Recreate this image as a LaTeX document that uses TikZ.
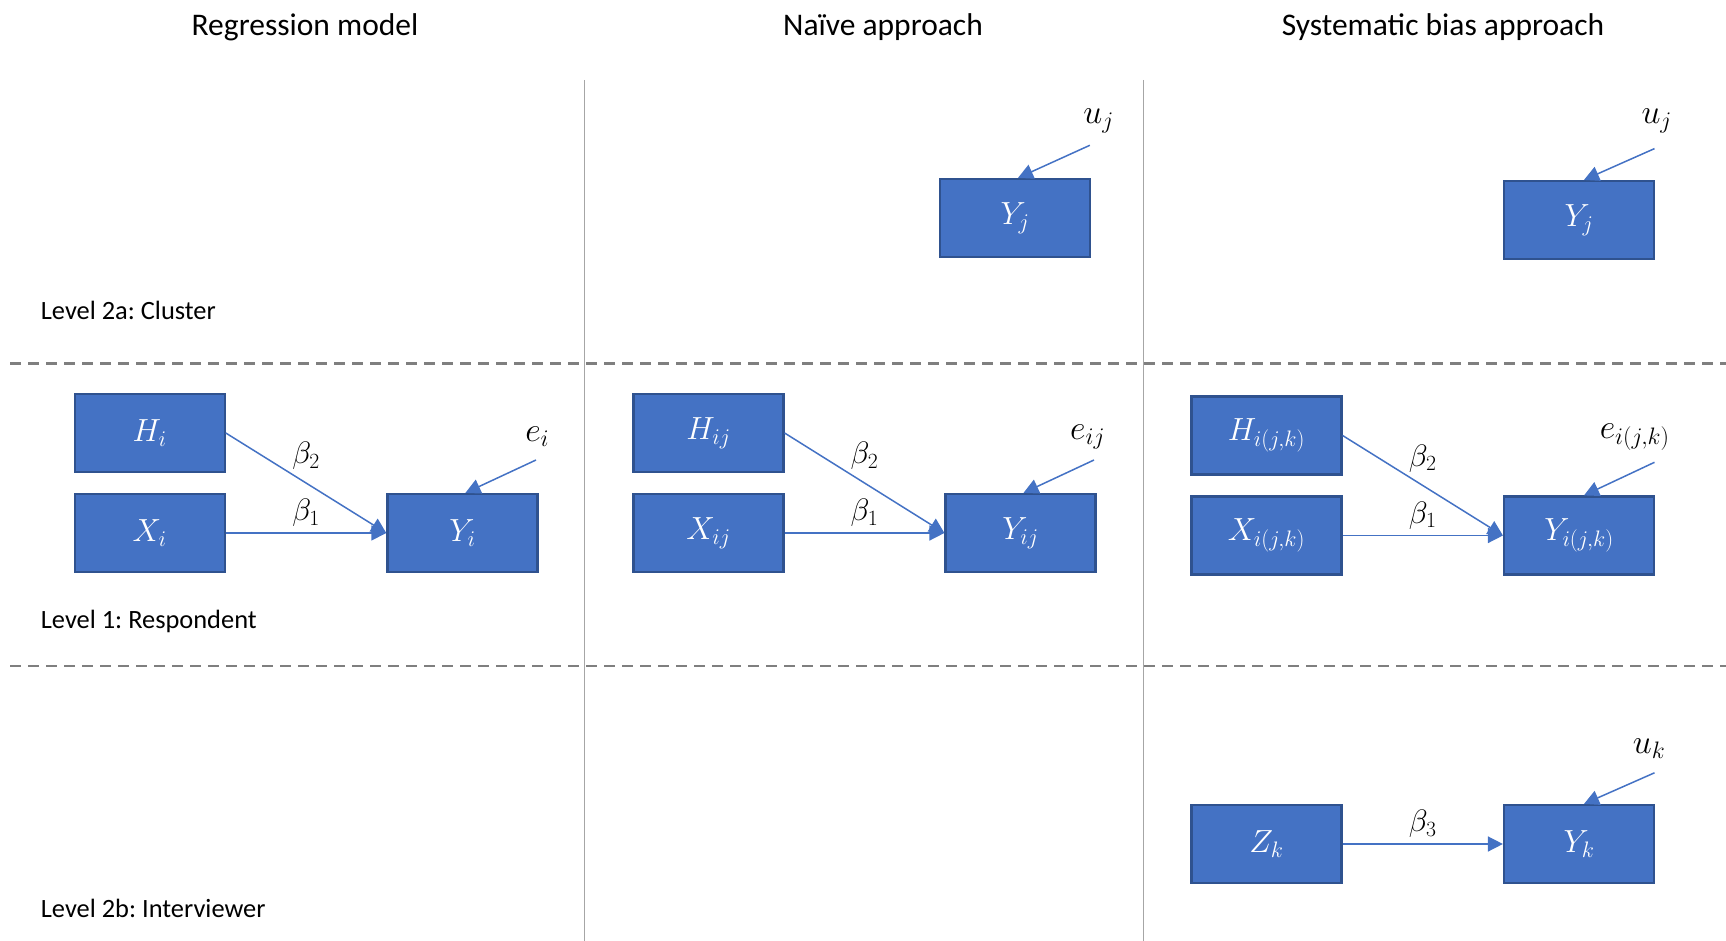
\documentclass[tikz,border=0pt]{standalone}
\usepackage{fix-cm}
\usepackage{fontspec}
\setmainfont{Carlito}
\usetikzlibrary{arrows.meta,calc}
\definecolor{boxfill}{HTML}{4472C4}
\definecolor{boxedge}{HTML}{2F528F}
\definecolor{arrowc}{HTML}{4472C4}
\definecolor{vlinec}{HTML}{A6A6A6}
\definecolor{dlinec}{HTML}{7F7F7F}
\frenchspacing
\begin{document}
\begin{tikzpicture}[x=1pt,y=-1pt,
  var/.style={draw=boxedge, line width=2.2pt, fill=boxfill, minimum width=150pt, minimum height=78pt, inner sep=0pt, text=white, font=\fontsize{32}{38}\selectfont},
  lab/.style={inner sep=0pt, font=\fontsize{34}{40}\selectfont},
  coef/.style={inner sep=0pt, font=\fontsize{31}{37}\selectfont},
  ttl/.style={anchor=base, inner sep=0pt, font=\fontsize{31.5}{38}\selectfont},
  lvl/.style={anchor=base west, inner sep=0pt, font=\fontsize{26.4}{32}\selectfont},
  link/.style={draw=arrowc, line width=1.5pt, -{Triangle[length=15pt,width=15pt]}},
  sep/.style={draw=vlinec, line width=1.5pt},
  divider/.style={draw=dlinec, line width=2.4pt, dash pattern=on 11pt off 7pt}
]
\useasboundingbox (0,0) rectangle (1726,941);

% titles
\node[ttl] (t1) at (305,36) {Regression model};
\node[ttl] (t2) at (883,36) {Naïve approach};
\node[ttl] (t3) at (1443,36) {Systematic bias approach};

% grid lines
\coordinate (v1a) at (584.5,80);
\coordinate (v1b) at (584.5,941);
\coordinate (v2a) at (1143.7,80);
\coordinate (v2b) at (1143.7,941);
\draw[sep] (v1a) -- (v1b);
\draw[sep] (v2a) -- (v2b);
\coordinate (d1a) at (10,363.3);
\coordinate (d1b) at (1726,363.3);
\coordinate (d2a) at (10,666);
\coordinate (d2b) at (1726,666);
\draw[divider] (d1a) -- (d1b);
\draw[divider] (d2a) -- (d2b);

% level labels
\node[lvl] (l1) at (40.7,319) {Level 2a: Cluster};
\node[lvl] (l2) at (40.7,628) {Level 1: Respondent};
\node[lvl] (l3) at (40.7,917) {Level 2b: Interviewer};

% column 1
\node[var] (H1) at (149.7,433) {$H_i$};
\node[var] (X1) at (149.7,533) {$X_i$};
\node[var] (Y1) at (462.4,533) {$Y_i$};
\draw[link] (H1.east) -- (Y1.west) node[coef, midway, yshift=27pt] (b21) {$\beta_2$};
\draw[link] (X1.east) -- (Y1.west) node[coef, midway, yshift=20pt] (b11) {$\beta_1$};
\node[lab] (e1) at (537.2,437) {$e_i$};
\coordinate (e1s) at (536,460);
\draw[link] (e1s) -- ([xshift=3pt]Y1.north);

% column 2
\node[var] (YJ2) at (1015,218) {$Y_j$};
\node[lab] (u2) at (1098.6,121) {$u_j$};
\coordinate (u2s) at (1089.8,145.3);
\draw[link] (u2s) -- ([xshift=3pt]YJ2.north);
\node[var] (H2) at (708.5,433) {$H_{ij}$};
\node[var] (X2) at (708.5,533) {$X_{ij}$};
\node[var] (Y2) at (1020.5,533) {$Y_{ij}$};
\draw[link] (H2.east) -- (Y2.west) node[coef, midway, yshift=27pt] (b22) {$\beta_2$};
\draw[link] (X2.east) -- (Y2.west) node[coef, midway, yshift=20pt] (b12) {$\beta_1$};
\node[lab] (e2) at (1087.6,437) {$e_{ij}$};
\coordinate (e2s) at (1094,460);
\draw[link] (e2s) -- ([xshift=3pt]Y2.north);

% column 3
\node[var] (YJ3) at (1579,220) {$Y_j$};
\node[lab] (u3) at (1656.7,121) {$u_j$};
\coordinate (u3s) at (1654.5,148.6);
\draw[link] (u3s) -- ([xshift=5pt]YJ3.north);
\node[var] (H3) at (1266.5,435.5) {$H_{i(j,k)}$};
\node[var] (X3) at (1266.5,535.5) {$X_{i(j,k)}$};
\node[var] (Y3) at (1579,535.5) {$Y_{i(j,k)}$};
\draw[link] (H3.east) -- (Y3.west) node[coef, midway, yshift=27pt] (b23) {$\beta_2$};
\draw[link] (X3.east) -- (Y3.west) node[coef, midway, yshift=20pt] (b13) {$\beta_1$};
\node[lab] (e3) at (1634.7,437) {$e_{i(j,k)}$};
\coordinate (e3s) at (1654.5,462.3);
\draw[link] (e3s) -- ([xshift=5pt]Y3.north);
\node[var] (Z3) at (1266.5,844) {$Z_k$};
\node[var] (YK3) at (1579,844) {$Y_k$};
\draw[link] (Z3.east) -- (YK3.west) node[coef, midway, yshift=20pt] (b33) {$\beta_3$};
\node[lab] (uk) at (1649,748.5) {$u_k$};
\coordinate (uks) at (1654.5,772.8);
\draw[link] (uks) -- ([xshift=5pt]YK3.north);
\end{tikzpicture}
\end{document}
